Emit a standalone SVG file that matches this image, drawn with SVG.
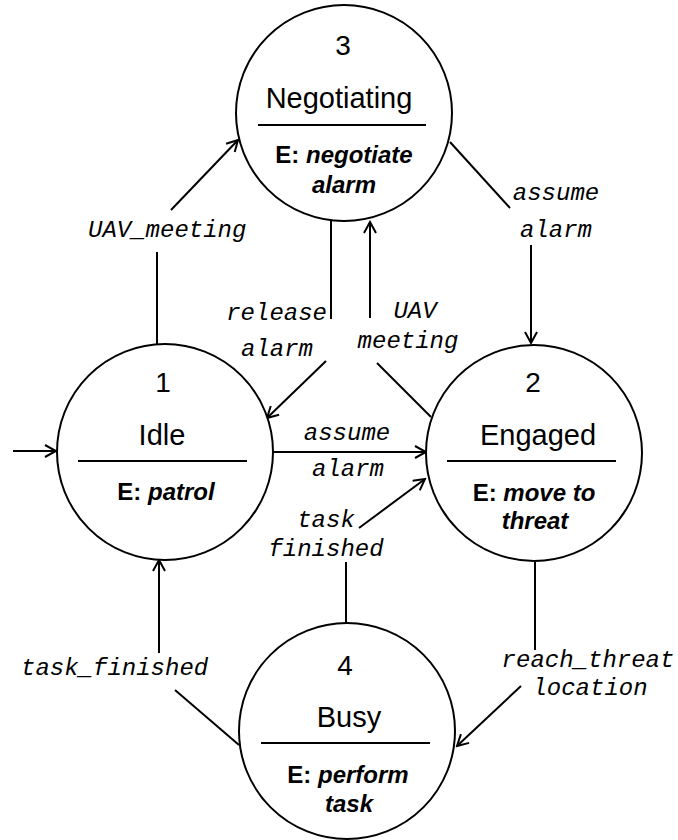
<svg xmlns="http://www.w3.org/2000/svg" width="678" height="840" viewBox="0 0 678 840">
  <style>
    .state { fill: #fff; stroke: #000; stroke-width: 2; }
    .divider { stroke: #000; stroke-width: 2; }
    .num { font-family: "Liberation Sans", Arial, sans-serif; font-size: 28px; text-anchor: middle; fill: #000; }
    .title { font-family: "Liberation Sans", Arial, sans-serif; font-size: 29px; text-anchor: middle; fill: #000; }
    .entry { font-family: "Liberation Sans", Arial, sans-serif; font-size: 24px; font-weight: bold; text-anchor: middle; fill: #000; }
    .entry tspan.act { font-style: italic; }
    .edge { fill: none; stroke: #000; stroke-width: 2; }
    .lbl { font-family: "Liberation Mono", "Courier New", monospace; font-size: 24px; font-style: italic; fill: #000; }
  </style>
  <defs>
    <marker id="arrow" markerWidth="14" markerHeight="14" refX="12" refY="7" orient="auto" markerUnits="userSpaceOnUse">
      <path d="M1,1 L12,7 L1,13" fill="none" stroke="#000" stroke-width="2"/>
    </marker>
  </defs>

  <!-- transitions -->
  <g id="connectors">
    <!-- initial transition into Idle -->
    <line class="edge" x1="13" y1="451" x2="56" y2="451" marker-end="url(#arrow)"/>
    <!-- Idle -> Negotiating : UAV_meeting -->
    <line class="edge" x1="157" y1="344" x2="157" y2="252"/>
    <line class="edge" x1="171" y1="210" x2="238" y2="140" marker-end="url(#arrow)"/>
    <text class="lbl" x="88" y="237">UAV_meeting</text>
    <!-- Negotiating -> Idle : release alarm -->
    <line class="edge" x1="331" y1="220" x2="331" y2="319"/>
    <line class="edge" x1="326" y1="361" x2="267" y2="418" marker-end="url(#arrow)"/>
    <text class="lbl" x="327" y="320" text-anchor="end">release</text>
    <text class="lbl" x="277" y="356" text-anchor="middle">alarm</text>
    <!-- Engaged -> Negotiating : UAV meeting -->
    <line class="edge" x1="431" y1="417" x2="377" y2="363"/>
    <line class="edge" x1="370" y1="318" x2="370" y2="222" marker-end="url(#arrow)"/>
    <text class="lbl" x="415" y="318" text-anchor="middle">UAV</text>
    <text class="lbl" x="408" y="348" text-anchor="middle">meeting</text>
    <!-- Negotiating -> Engaged : assume alarm -->
    <line class="edge" x1="450" y1="142" x2="510" y2="208"/>
    <line class="edge" x1="531" y1="245" x2="531" y2="343" marker-end="url(#arrow)"/>
    <text class="lbl" x="556" y="200" text-anchor="middle">assume</text>
    <text class="lbl" x="556" y="237" text-anchor="middle">alarm</text>
    <!-- Idle -> Engaged : assume alarm -->
    <line class="edge" x1="272" y1="452" x2="426" y2="452" marker-end="url(#arrow)"/>
    <text class="lbl" x="347" y="440" text-anchor="middle">assume</text>
    <text class="lbl" x="348" y="476" text-anchor="middle">alarm</text>
    <!-- Busy -> Engaged : task finished -->
    <line class="edge" x1="346" y1="623" x2="346" y2="562"/>
    <line class="edge" x1="359" y1="528" x2="425" y2="479" marker-end="url(#arrow)"/>
    <text class="lbl" x="326" y="527" text-anchor="middle">task</text>
    <text class="lbl" x="326" y="556" text-anchor="middle">finished</text>
    <!-- Busy -> Idle : task_finished -->
    <line class="edge" x1="239" y1="745" x2="175" y2="690"/>
    <line class="edge" x1="159" y1="653" x2="159" y2="560" marker-end="url(#arrow)"/>
    <text class="lbl" x="21" y="675">task_finished</text>
    <!-- Engaged -> Busy : reach_threat location -->
    <line class="edge" x1="535" y1="560" x2="535" y2="650"/>
    <line class="edge" x1="521" y1="686" x2="457" y2="746" marker-end="url(#arrow)"/>
    <text class="lbl" x="588" y="667" text-anchor="middle">reach_threat</text>
    <text class="lbl" x="590" y="695" text-anchor="middle">location</text>
  </g>

  <!-- states -->
  <g id="state-3-negotiating">
    <circle class="state" cx="344" cy="113" r="108"/>
    <text class="num" x="343" y="55">3</text>
    <text class="title" x="339" y="108">Negotiating</text>
    <line class="divider" x1="258" y1="125" x2="426" y2="125"/>
    <text class="entry" x="344" y="163">E: <tspan class="act">negotiate</tspan></text>
    <text class="entry" x="344" y="193"><tspan class="act">alarm</tspan></text>
  </g>

  <g id="state-1-idle">
    <circle class="state" cx="165" cy="452" r="108"/>
    <text class="num" x="163" y="392">1</text>
    <text class="title" x="162" y="445">Idle</text>
    <line class="divider" x1="78" y1="461" x2="247" y2="461"/>
    <text class="entry" x="166" y="500">E: <tspan class="act">patrol</tspan></text>
  </g>

  <g id="state-2-engaged">
    <circle class="state" cx="534" cy="453" r="108"/>
    <text class="num" x="533" y="392">2</text>
    <text class="title" x="538" y="445">Engaged</text>
    <line class="divider" x1="447" y1="461" x2="616" y2="461"/>
    <text class="entry" x="534" y="501">E: <tspan class="act">move to</tspan></text>
    <text class="entry" x="535" y="529"><tspan class="act">threat</tspan></text>
  </g>

  <g id="state-4-busy">
    <circle class="state" cx="347" cy="731" r="108"/>
    <text class="num" x="345" y="675">4</text>
    <text class="title" x="349" y="727">Busy</text>
    <line class="divider" x1="261" y1="743" x2="430" y2="743"/>
    <text class="entry" x="348" y="783">E: <tspan class="act">perform</tspan></text>
    <text class="entry" x="349" y="812"><tspan class="act">task</tspan></text>
  </g>
</svg>
